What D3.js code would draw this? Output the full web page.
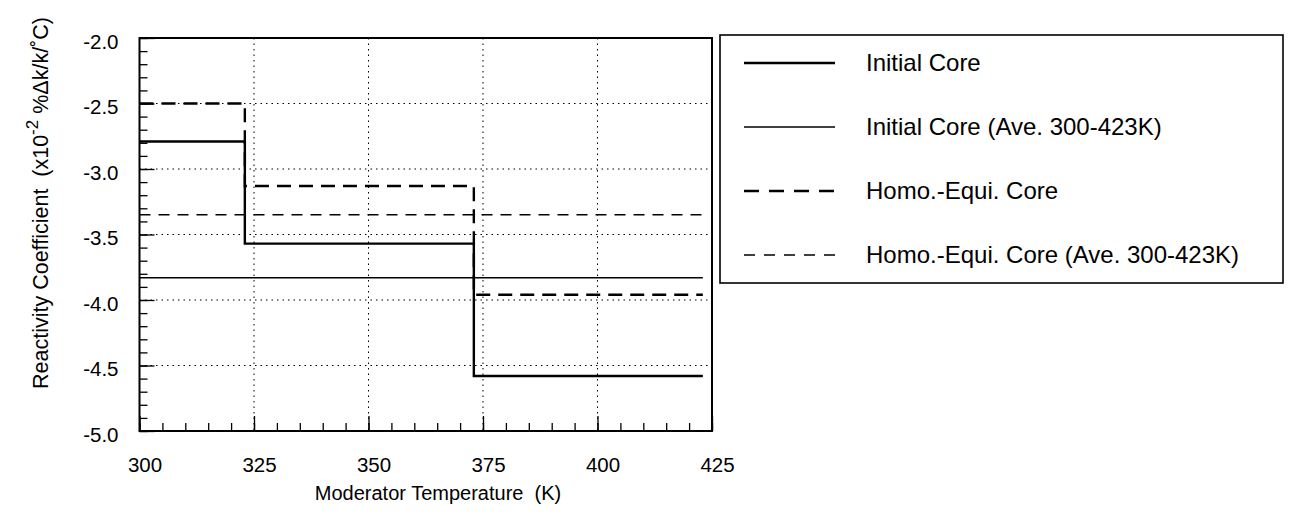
<!DOCTYPE html>
<html>
<head>
<meta charset="utf-8">
<script src="https://cdn.jsdelivr.net/npm/d3@7"></script>
<style>
  html, body { margin: 0; padding: 0; background: #fff; }
  svg text { font-family: "Liberation Sans", Arial, Helvetica, sans-serif; fill: #000; white-space: pre; }
</style>
</head>
<body>
<svg id="chart" width="1289" height="516"></svg>
<script>
// ---- data ----
const stepTemps = [300, 323, 373, 423];
const initialCore = [-2.79, -3.57, -4.58, -4.58];
const homoEquiCore = [-2.50, -3.13, -3.96, -3.96];
const aveTemps = [300, 423];
const initialCoreAve = [-3.83, -3.83];
const homoEquiCoreAve = [-3.35, -3.35];
const xTicks = [300, 325, 350, 375, 400, 425];
const yTicks = [-2.0, -2.5, -3.0, -3.5, -4.0, -4.5, -5.0];
const seriesNames = ["Initial Core", "Initial Core (Ave. 300-423K)", "Homo.-Equi. Core", "Homo.-Equi. Core (Ave. 300-423K)"];

// ---- layout ----
const svg = d3.select("#chart");
const L = 139.5, R = 712, T = 38, B = 431;
const x = d3.scaleLinear().domain([300, 425]).range([L, R]);
const y = d3.scaleLinear().domain([-5, -2]).range([B, T]);

const styles = [
  { w: 2.4, dash: null },
  { w: 1.5, dash: null },
  { w: 2.4, dash: "14,8" },
  { w: 1.5, dash: "11,8" }
];

// grid (dotted)
const grid = svg.append("g");
grid.selectAll("line.gx").data(xTicks.slice(1, -1)).join("line")
  .attr("x1", d => x(d)).attr("x2", d => x(d)).attr("y1", T).attr("y2", B)
  .attr("stroke", "#000").attr("stroke-width", 1).attr("stroke-dasharray", "1.5,4");
grid.selectAll("line.gy").data(yTicks.slice(1, -1)).join("line")
  .attr("x1", L).attr("x2", R).attr("y1", d => y(d)).attr("y2", d => y(d))
  .attr("stroke", "#000").attr("stroke-width", 1).attr("stroke-dasharray", "1.5,4");

// axes (inner ticks)
const xMinor = d3.range(300, 426, 5);
const yMinor = d3.range(-50, -19, 1).map(v => v / 10);
svg.append("g").attr("transform", `translate(0,${B})`)
  .call(d3.axisTop(x).tickValues(xMinor).tickSize(8).tickFormat(""))
  .call(g => g.select(".domain").remove())
  .call(g => g.selectAll("line").attr("stroke", "#000").attr("stroke-width", 1.3));
svg.append("g").attr("transform", `translate(0,${B})`)
  .call(d3.axisTop(x).tickValues(xTicks).tickSize(15).tickFormat(""))
  .call(g => g.select(".domain").remove())
  .call(g => g.selectAll("line").attr("stroke", "#000").attr("stroke-width", 1.3));
svg.append("g").attr("transform", `translate(${L},0)`)
  .call(d3.axisRight(y).tickValues(yMinor).tickSize(8).tickFormat(""))
  .call(g => g.select(".domain").remove())
  .call(g => g.selectAll("line").attr("stroke", "#000").attr("stroke-width", 1.3));
svg.append("g").attr("transform", `translate(${L},0)`)
  .call(d3.axisRight(y).tickValues(yTicks).tickSize(15).tickFormat(""))
  .call(g => g.select(".domain").remove())
  .call(g => g.selectAll("line").attr("stroke", "#000").attr("stroke-width", 1.3));

// tick labels
svg.append("g").attr("transform", `translate(0,${B + 41})`)
  .call(d3.axisBottom(x).tickValues(xTicks).tickSize(0).tickPadding(0).tickFormat(d => String(d)))
  .call(g => g.select(".domain").remove())
  .call(g => g.selectAll("text").attr("font-size", 20.5).attr("dy", 0).attr("dx", 5)
    .attr("font-family", "Liberation Sans, Arial, sans-serif").attr("fill", "#000"));
svg.append("g").attr("transform", `translate(${L - 21},0)`)
  .call(d3.axisLeft(y).tickValues(yTicks).tickSize(0).tickPadding(0).tickFormat(d => d.toFixed(1)))
  .call(g => g.select(".domain").remove())
  .call(g => g.selectAll("text").attr("font-size", 20.5).attr("dy", "0.5em")
    .attr("font-family", "Liberation Sans, Arial, sans-serif").attr("fill", "#000"));

// series
const line = d3.line().x(d => x(d[0])).y(d => y(d[1]));
const stepLine = d3.line().x(d => x(d[0])).y(d => y(d[1])).curve(d3.curveStepAfter);
const seriesData = [
  { pts: d3.zip(stepTemps, initialCore), gen: stepLine },
  { pts: d3.zip(aveTemps, initialCoreAve), gen: line },
  { pts: d3.zip(stepTemps, homoEquiCore), gen: stepLine },
  { pts: d3.zip(aveTemps, homoEquiCoreAve), gen: line }
];
seriesData.forEach((s, i) => {
  svg.append("path").attr("d", s.gen(s.pts)).attr("fill", "none")
    .attr("stroke", "#000").attr("stroke-width", styles[i].w)
    .attr("stroke-dasharray", styles[i].dash);
});

// frame
svg.append("rect").attr("x", L).attr("y", T).attr("width", R - L).attr("height", B - T)
  .attr("fill", "none").attr("stroke", "#000").attr("stroke-width", 2);

// axis titles
svg.append("text").attr("x", 438).attr("y", 500).attr("text-anchor", "middle")
  .attr("font-size", 20).text("Moderator Temperature  (K)");
const yl = svg.append("text").attr("transform", "translate(48,203) rotate(-90)")
  .attr("text-anchor", "middle").attr("font-size", 21.5);
yl.append("tspan").text("Reactivity Coefficient  (x10");
yl.append("tspan").attr("dy", -10).attr("font-size", 17).text("-2");
yl.append("tspan").attr("dy", 10).text(" %Δk/k/˚C)");

// legend
svg.append("rect").attr("x", 720).attr("y", 35).attr("width", 563).attr("height", 248)
  .attr("fill", "none").attr("stroke", "#000").attr("stroke-width", 1.6);
const lg = svg.append("g");
seriesNames.forEach((name, i) => {
  const yy = 63 + i * 64;
  lg.append("line").attr("x1", 744).attr("x2", 835).attr("y1", yy).attr("y2", yy)
    .attr("stroke", "#000").attr("stroke-width", styles[i].w)
    .attr("stroke-dasharray", i === 2 ? "15,10" : (i === 3 ? "11,9" : null));
  lg.append("text").attr("x", 866).attr("y", yy + 8).attr("font-size", 24).text(name);
});
</script>
</body>
</html>
